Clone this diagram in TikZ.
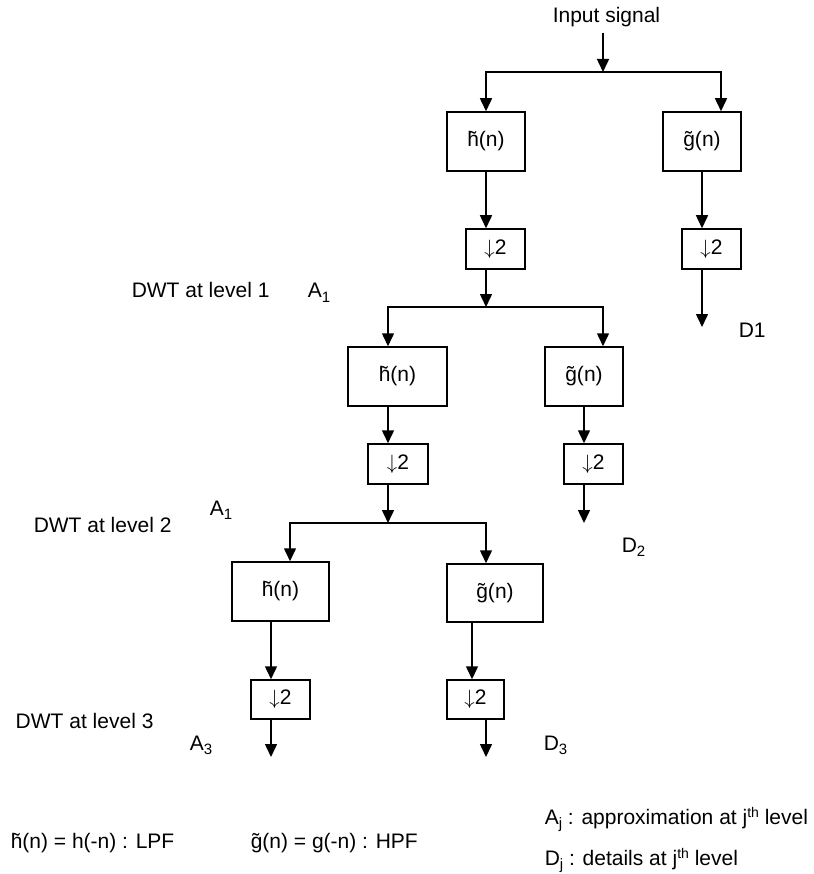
\documentclass[tikz,border=0pt]{standalone}
\usepackage{fontspec}
\setmainfont{Liberation Sans}
\usetikzlibrary{arrows.meta}

% small lowered / raised text for indices
\newcommand{\sbs}[1]{\raisebox{-4.5pt}{\fontsize{15}{15}\selectfont #1}}
\newcommand{\sps}[1]{\raisebox{7pt}{\fontsize{14}{14}\selectfont #1}}
% downsampling by two
\newcommand{\dsm}{$\downarrow$2}

\begin{document}
\begin{tikzpicture}[x=1pt, y=-1pt, line width=1.5pt,
    font=\fontsize{21}{25}\selectfont,
    filt/.style={draw, minimum height=59pt, inner sep=0pt},
    dsbox/.style={draw, minimum width=59pt, minimum height=40pt, inner sep=0pt},
    arr/.style={-{Triangle[length=13pt, width=12pt]}},
    lbl/.style={anchor=base west, inner sep=0pt}]

        \useasboundingbox (0, 0) rectangle (813, 874);

        % level 1
        \node[lbl] (inp) at (552, 23) {Input signal};
        \coordinate (j0) at (603, 72);
        \node[filt, minimum width=78pt] (h1) at (486, 141.5) {\~h(n)};
        \node[filt, minimum width=78pt] (g1) at (702, 141.5) {\~g(n)};
        \node[dsbox] (d1) at (495.5, 249) {\dsm};
        \node[dsbox] (e1) at (711.5, 249) {\dsm};
        \coordinate (j1) at (486, 307);
        \coordinate (o1) at (702, 327);
        \node[lbl] (D1) at (738, 337) {D1};
        \node[lbl] (lv1) at (131, 298) {DWT at level 1};
        \node[lbl] (a1) at (307, 298) {A\sbs{1}};

        % level 2
        \node[filt, minimum width=99pt] (h2) at (397.5, 376.5) {\~h(n)};
        \node[filt, minimum width=78pt] (g2) at (584, 376.5) {\~g(n)};
        \node[dsbox, minimum width=60pt] (d2) at (398, 464) {\dsm};
        \node[dsbox] (e2) at (593.5, 464) {\dsm};
        \coordinate (j2) at (388, 523);
        \coordinate (o2) at (584, 523);
        \node[lbl] (D2) at (621, 552) {D\sbs{2}};
        \node[lbl] (lv2) at (33, 532) {DWT at level 2};
        \node[lbl] (a2) at (209, 515) {A\sbs{1}};

        % level 3
        \node[filt, minimum width=97pt] (h3) at (280.5, 591.5) {\~h(n)};
        \node[filt, minimum width=96pt, minimum height=58pt] (g3) at (495, 593) {\~g(n)};
        \node[dsbox, minimum height=39pt] (d3) at (280.5, 699.5) {\dsm};
        \node[dsbox, minimum width=57pt, minimum height=39pt] (e3) at (475.5, 699.5) {\dsm};
        \coordinate (o3) at (271, 757);
        \coordinate (o4) at (486, 757);
        \node[lbl] (lv3) at (15, 728) {DWT at level 3};
        \node[lbl] (a3) at (189, 750) {A\sbs{3}};
        \node[lbl] (D3) at (543, 750) {D\sbs{3}};

        % legend
        \node[lbl] (lpf) at (10, 848) {\~h(n) = h(-n) : LPF};
        \node[lbl] (hpf) at (250, 848) {\~g(n) = g(-n) : HPF};
        \node[lbl] (aj) at (544, 824) {A\sbs{j} : approximation at j\sps{th} level};
        \node[lbl] (dj) at (544, 865) {D\sbs{j} : details at j\sps{th} level};

        % connectors
        \draw[arr] ([yshift=-10pt]inp.base -| j0) -- (j0);
        \draw[arr] (j0) -| (h1.north);
        \draw[arr] (j0) -| ([xshift=19pt]g1.north);
        \draw[arr] (h1.south) -- (h1.south |- d1.north);
        \draw[arr] (g1.south) -- (g1.south |- e1.north);
        \draw[arr] (d1.south -| j1) -- (j1);
        \draw[arr] (e1.south -| o1) -- (o1);

        \draw[arr] (j1) -| ([xshift=-9.5pt]h2.north);
        \draw[arr] (j1) -| ([xshift=19pt]g2.north);
        \draw[arr] ([xshift=-9.5pt]h2.south) -- ([xshift=-9.5pt]h2.south |- d2.north);
        \draw[arr] (g2.south) -- (g2.south |- e2.north);
        \draw[arr] (d2.south -| j2) -- (j2);
        \draw[arr] (e2.south -| o2) -- (o2);

        \draw[arr] (j2) -| ([xshift=9.5pt]h3.north);
        \draw[arr] (j2) -| ([xshift=-9pt]g3.north);
        \draw[arr] (h3.south -| o3) -- (d3.north -| o3);
        \draw[arr] (d3.south -| o3) -- (o3);
        \draw[arr] ([xshift=-23pt]g3.south) -- ([xshift=-23pt]g3.south |- e3.north);
        \draw[arr] (e3.south -| o4) -- (o4);
    \end{tikzpicture}
\end{document}
